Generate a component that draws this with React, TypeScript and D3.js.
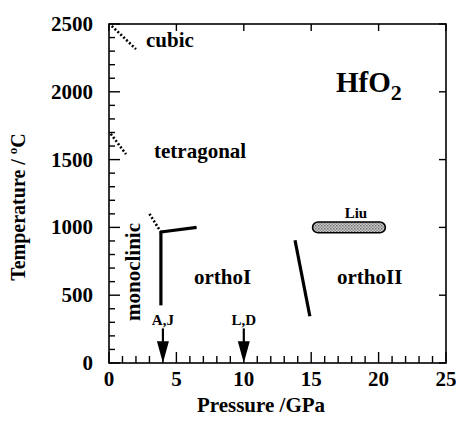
import React from "react";
import * as d3 from "d3";

const W = 456;
const H = 422;
const M = { left: 109, right: 10, top: 24, bottom: 59 };

const xTicks = [0, 5, 10, 15, 20, 25];
const yTicks = [0, 500, 1000, 1500, 2000, 2500];

const cubicBoundary: [number, number][] = [[0.2, 2485], [2.0, 2315]];
const tetragonalBoundary: [number, number][] = [[0.13, 1690], [1.26, 1540]];
const monoTetraBoundary: [number, number][] = [[3.0, 1100], [3.85, 966]];
const monoOrthoBoundary: [number, number][] = [[3.85, 966], [3.85, 425]];
const tetraOrthoBoundary: [number, number][] = [[3.85, 966], [6.5, 1000]];
const orthoIIBoundary: [number, number][] = [[13.8, 905], [14.9, 345]];

const liuPressure = [15.1, 20.5];
const liuTemp = [960, 1040];

const arrowPressures = [4, 10];
const arrowLabels = ["A,J", "L,D"];

const FONT = "'Liberation Serif', 'Times New Roman', serif";

export default function App() {
  const x = d3.scaleLinear().domain([0, 25]).range([M.left, W - M.right]);
  const y = d3.scaleLinear().domain([0, 2500]).range([H - M.bottom, M.top]);
  const line = d3.line<[number, number]>().x((d) => x(d[0])).y((d) => y(d[1]));

  const x0 = x(0), x1 = x(25), y0 = y(0), y1 = y(2500);
  const xMinor = d3.range(0, 26, 1);
  const yMinor = d3.range(0, 2501, 100);

  const liuX0 = x(liuPressure[0]), liuX1 = x(liuPressure[1]);
  const liuY0 = y(liuTemp[1]), liuY1 = y(liuTemp[0]);
  const liuH = liuY1 - liuY0;

  return (
    <svg width={W} height={H} style={{ position: "absolute", left: 0, top: 0, background: "#fff" }}>
      <defs>
        <pattern id="dots" width="3" height="3" patternUnits="userSpaceOnUse">
          <rect width="3" height="3" fill="#d0d0d0" />
          <rect width="1.5" height="1.5" fill="#6a6a6a" />
          <rect x="1.5" y="1.5" width="1.5" height="1.5" fill="#8a8a8a" />
        </pattern>
      </defs>
      {/* frame */}
      <rect x={x0} y={y1} width={x1 - x0} height={y0 - y1} fill="none" stroke="#000" strokeWidth={1.6} />
      {/* bottom ticks */}
      {xMinor.map((v) => (
        <line key={"bx" + v} x1={x(v)} x2={x(v)} y1={y0} y2={y0 - (v % 5 === 0 ? 11 : 7)} stroke="#000" strokeWidth={1.4} />
      ))}
      {/* top ticks */}
      {xTicks.map((v) => (
        <line key={"tx" + v} x1={x(v)} x2={x(v)} y1={y1} y2={y1 + 7} stroke="#000" strokeWidth={1.4} />
      ))}
      {/* left ticks */}
      {yMinor.map((v) => (
        <line key={"ly" + v} x1={x0} x2={x0 + (v % 500 === 0 ? 11 : 6)} y1={y(v)} y2={y(v)} stroke="#000" strokeWidth={1.4} />
      ))}
      {/* right ticks */}
      {yTicks.map((v) => (
        <line key={"ry" + v} x1={x1} x2={x1 - 7} y1={y(v)} y2={y(v)} stroke="#000" strokeWidth={1.4} />
      ))}
      {/* tick labels */}
      {xTicks.map((v) => (
        <text key={"xl" + v} x={x(v)} y={386} textAnchor="middle" fontFamily={FONT} fontWeight="bold" fontSize={21}>{v}</text>
      ))}
      {yTicks.map((v) => (
        <text key={"yl" + v} x={93} y={y(v) + 7} textAnchor="end" fontFamily={FONT} fontWeight="bold" fontSize={21}>{v}</text>
      ))}
      {/* axis titles */}
      <text x={261} y={412} textAnchor="middle" fontFamily={FONT} fontWeight="bold" fontSize={21}>Pressure /GPa</text>
      <text transform={`translate(25,207) rotate(-90)`} textAnchor="middle" fontFamily={FONT} fontWeight="bold" fontSize={20}>
        Temperature / <tspan fontSize={13} dy={-8}>o</tspan><tspan dy={8}>C</tspan>
      </text>
      {/* boundaries */}
      {[cubicBoundary, tetragonalBoundary, monoTetraBoundary].map((d, i) => (
        <path key={"dot" + i} d={line(d) || ""} fill="none" stroke="#000" strokeWidth={2.6} strokeDasharray="2,2" />
      ))}
      {[monoOrthoBoundary, tetraOrthoBoundary, orthoIIBoundary].map((d, i) => (
        <path key={"sol" + i} d={line(d) || ""} fill="none" stroke="#000" strokeWidth={3.2} strokeLinecap="butt" />
      ))}
      {/* Liu */}
      <rect x={liuX0} y={liuY0} width={liuX1 - liuX0} height={liuH} rx={liuH / 2} ry={liuH / 2} fill="url(#dots)" stroke="#000" strokeWidth={1.6} />
      <text x={(liuX0 + liuX1) / 2 + 7} y={218} textAnchor="middle" fontFamily={FONT} fontWeight="bold" fontSize={15}>Liu</text>
      {/* arrows */}
      {arrowPressures.map((p, i) => {
        const ax = x(p);
        const tip = y(0);
        const base = y(160);
        const top = y(255);
        return (
          <g key={"ar" + i}>
            <line x1={ax} x2={ax} y1={top} y2={base + 1} stroke="#000" strokeWidth={2.2} />
            <path d={`M${ax - 6},${base}L${ax + 6},${base}L${ax},${tip}Z`} fill="#000" />
            <text x={ax} y={y(277)} textAnchor="middle" fontFamily={FONT} fontWeight="bold" fontSize={15}>{arrowLabels[i]}</text>
          </g>
        );
      })}
      {/* phase labels */}
      <text x={146} y={47} fontFamily={FONT} fontWeight="bold" fontSize={21}>cubic</text>
      <text x={154} y={158} fontFamily={FONT} fontWeight="bold" fontSize={21}>tetragonal</text>
      <text x={194} y={284} fontFamily={FONT} fontWeight="bold" fontSize={21}>orthoI</text>
      <text x={337} y={284} fontFamily={FONT} fontWeight="bold" fontSize={21}>orthoII</text>
      <text transform={`translate(140,272) rotate(-90)`} textAnchor="middle" fontFamily={FONT} fontWeight="bold" fontSize={21}>monoclinic</text>
      <text x={336} y={92} fontFamily={FONT} fontWeight="bold" fontSize={29}>
        HfO<tspan fontSize={22} dy={8}>2</tspan>
      </text>
    </svg>
  );
}
